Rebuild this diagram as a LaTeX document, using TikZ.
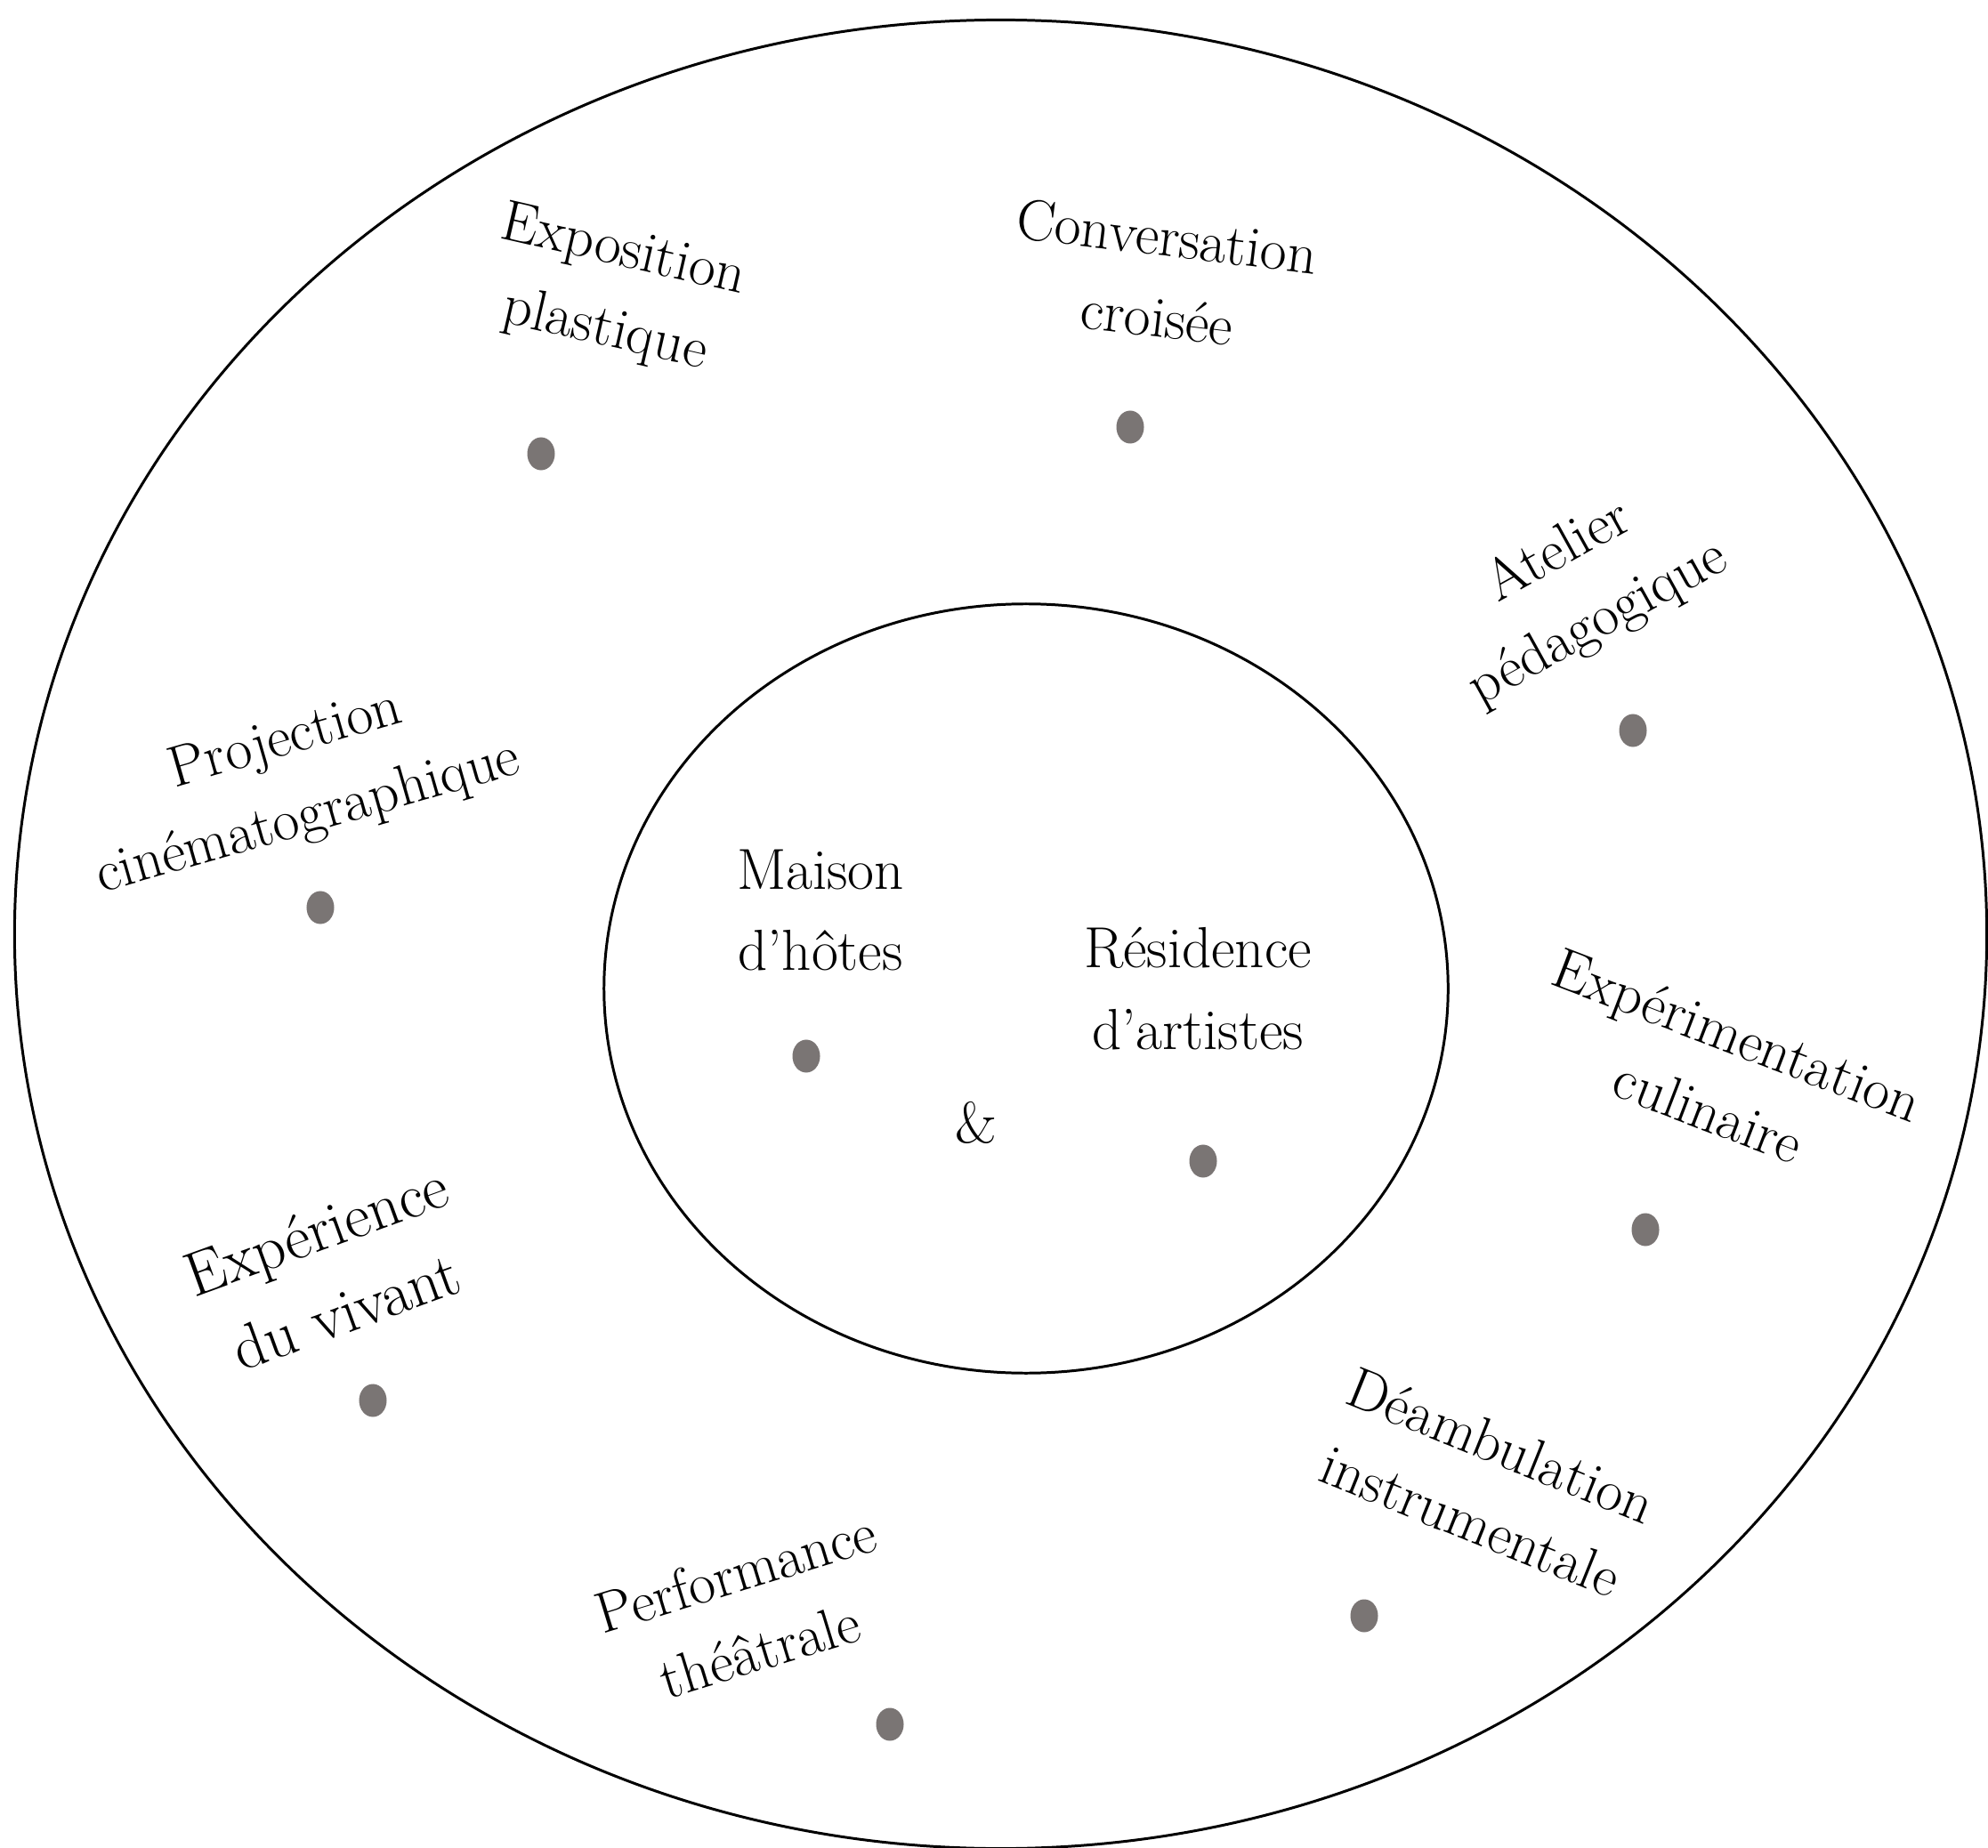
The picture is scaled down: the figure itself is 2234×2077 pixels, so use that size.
\documentclass[tikz,border=0pt]{standalone}
\usetikzlibrary{shapes.geometric}
\definecolor{dotgray}{RGB}{122,117,116}
\begin{document}
\begin{tikzpicture}[x=0.01cm,y=-0.01cm,
  ring/.style={draw=black,line width=0.85pt,ellipse,inner sep=0pt},
  dotmark/.style={ellipse,fill=dotgray,draw=none,minimum width=0.31cm,minimum height=0.37cm,inner sep=0pt},
  lbl/.style={align=center,inner sep=0pt,font=\fontsize{18.5}{26}\selectfont}]
\useasboundingbox[fill=white] (0,0) rectangle (2234,2077);
% rings
\node[ring,minimum width=22.15cm,minimum height=20.54cm] (outer) at (1124.5,1050) {};
\node[ring,minimum width=9.48cm,minimum height=8.64cm] (inner) at (1153,1111) {};
% outer labels and dots
\node[lbl,rotate=-13] (t1) at (690,328) {Exposition\\plastique};
\node[dotmark] (d1) at (608,510) {};
\node[lbl,rotate=-7] (t2) at (1306,311) {Conversation\\croisée};
\node[dotmark] (d2) at (1270,480) {};
\node[lbl,rotate=29] (t3) at (1774,661) {Atelier\\pédagogique};
\node[dotmark] (d3) at (1835,821) {};
\node[lbl,rotate=16] (t4) at (334,877) {Projection\\cinématographique};
\node[dotmark] (d4) at (360,1020) {};
\node[lbl,rotate=-21] (t5) at (1936,1206) {Expérimentation\\culinaire};
\node[dotmark] (d5) at (1849,1382) {};
\node[lbl,rotate=20,font=\fontsize{20}{27.5}\selectfont] (t6) at (372,1428) {Expérience\\du vivant};
\node[dotmark] (d6) at (419,1574) {};
\node[lbl,rotate=-22] (t7) at (1670,1667) {Déambulation\\instrumentale};
\node[dotmark] (d7) at (1533,1816) {};
\node[lbl,rotate=17] (t8) at (840,1811) {Performance\\théâtrale};
\node[dotmark] (d8) at (1000,1938) {};
% inner labels and dots
\node[lbl] (t9) at (922,1023) {Maison\\d’hôtes};
\node[dotmark] (d9) at (906,1187) {};
\node[lbl] (t10) at (1346,1111) {Résidence\\d’artistes};
\node[dotmark] (d10) at (1352,1305) {};
\node[lbl] (amp) at (1097,1262) {\&};
\end{tikzpicture}
\end{document}
